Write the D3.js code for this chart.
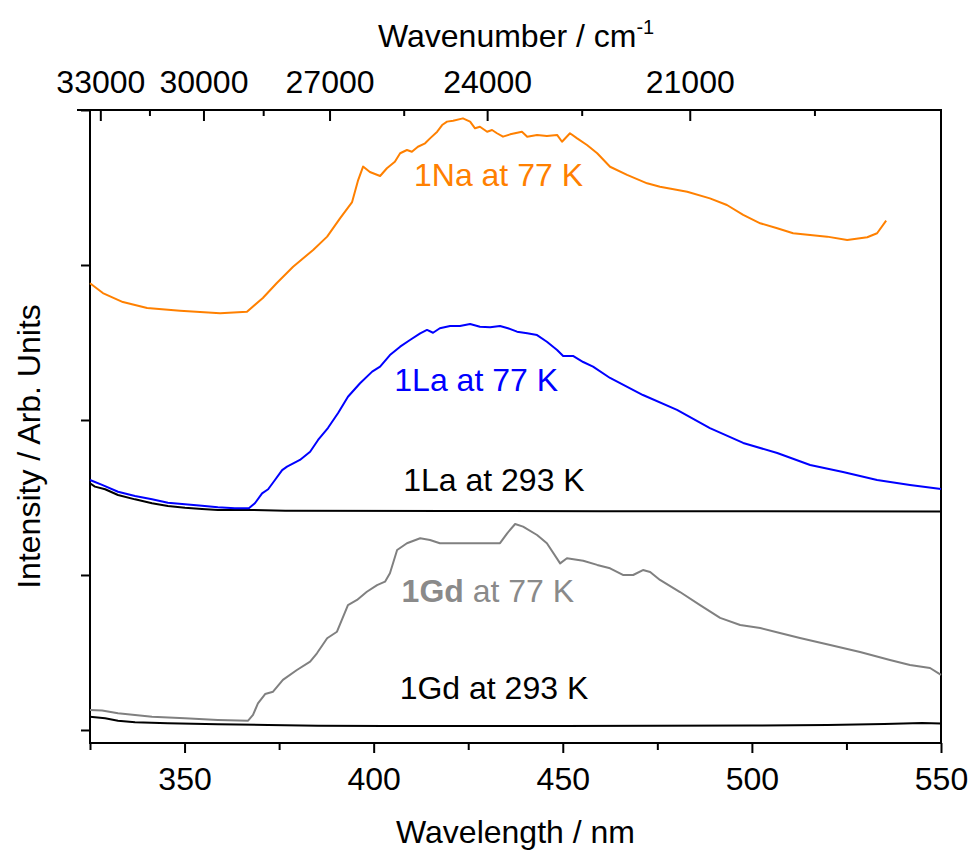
<!DOCTYPE html>
<html>
<head>
<meta charset="utf-8">
<script src="https://cdn.jsdelivr.net/npm/d3@7"></script>
<style>
  body { margin: 0; background: #fff; }
  svg text { font-family: Arial, "Liberation Sans", sans-serif; }
</style>
</head>
<body>
<svg id="chart" width="975" height="856"></svg>
<script>
// Emission spectra: wavelength (nm) and offset intensity (arb. units)
const na77Wavelength = [325.0,328.4,333.7,340.1,348.8,359.4,366.5,370.7,374.4,378.7,384.0,387.7,391.1,394.3,395.9,397.2,399.0,401.7,403.5,405.6,407.0,408.8,410.1,411.7,413.6,414.9,416.8,418.1,419.4,421.0,423.6,425.5,426.8,428.1,430.0,431.3,432.6,434.2,436.1,439.2,440.6,443.2,445.8,448.5,449.8,451.9,453.8,456.4,459.1,462.5,467.0,472.3,475.7,482.9,488.9,493.4,497.7,502.2,506.7,510.9,515.4,519.9,525.2,530.5,533.1,535.5];
const na77Intensity = [2.882,2.819,2.761,2.723,2.705,2.688,2.699,2.787,2.884,2.989,3.097,3.183,3.301,3.406,3.548,3.635,3.600,3.574,3.624,3.666,3.721,3.742,3.731,3.763,3.785,3.817,3.860,3.903,3.925,3.931,3.946,3.925,3.882,3.892,3.860,3.871,3.850,3.828,3.843,3.860,3.828,3.839,3.832,3.839,3.795,3.850,3.817,3.774,3.721,3.634,3.581,3.527,3.505,3.473,3.430,3.387,3.323,3.269,3.237,3.205,3.194,3.183,3.161,3.179,3.205,3.286];

const la77Wavelength = [325.0,328.2,332.4,336.9,341.4,345.6,350.1,354.6,358.8,363.3,367.0,368.6,370.5,372.1,373.9,375.8,377.1,380.5,383.2,385.3,387.9,390.6,393.2,396.4,399.6,401.7,404.3,407.0,409.6,412.3,414.1,415.7,417.5,420.2,422.8,425.5,428.1,430.8,433.4,435.5,437.9,440.6,443.2,445.8,448.5,450.1,452.7,455.4,458.0,462.5,471.2,480.2,488.9,497.7,506.7,515.4,524.1,533.1,541.8,550.0];
const la77Intensity = [1.613,1.581,1.537,1.510,1.488,1.466,1.456,1.447,1.437,1.430,1.430,1.463,1.527,1.553,1.613,1.677,1.699,1.742,1.795,1.871,1.948,2.045,2.150,2.237,2.312,2.344,2.419,2.473,2.516,2.559,2.581,2.563,2.592,2.606,2.606,2.619,2.602,2.598,2.606,2.592,2.570,2.559,2.548,2.505,2.452,2.413,2.413,2.374,2.344,2.271,2.161,2.065,1.948,1.852,1.787,1.710,1.665,1.613,1.581,1.555];

const la293Wavelength = [325.0,326.3,329.0,332.4,336.9,341.4,345.6,350.1,354.6,358.8,367.8,376.6,420.0,460.0,500.0,550.0];
const la293Intensity = [1.592,1.570,1.553,1.516,1.488,1.463,1.445,1.434,1.426,1.419,1.419,1.415,1.413,1.411,1.412,1.410];

const gd77Wavelength = [325.0,328.2,332.4,341.4,350.1,358.8,366.8,368.1,369.4,371.3,373.4,376.0,379.7,383.2,385.0,387.7,390.3,393.2,395.6,398.2,400.9,403.0,404.3,406.2,408.8,412.3,414.9,417.5,423.6,428.9,433.4,435.3,437.4,439.5,443.2,445.8,449.3,451.1,455.4,459.1,462.5,465.9,468.6,471.2,473.1,475.7,481.0,486.3,491.6,496.9,502.2,507.4,512.7,520.7,528.6,536.5,541.8,547.1,550.0];
const gd77Intensity = [0.129,0.125,0.108,0.086,0.075,0.065,0.060,0.097,0.172,0.232,0.247,0.323,0.387,0.441,0.495,0.592,0.634,0.806,0.839,0.892,0.935,0.957,1.011,1.161,1.205,1.237,1.226,1.205,1.205,1.205,1.205,1.269,1.329,1.312,1.258,1.205,1.075,1.108,1.092,1.065,1.043,1.000,1.000,1.032,1.019,0.968,0.890,0.806,0.723,0.677,0.658,0.626,0.594,0.548,0.503,0.452,0.419,0.400,0.355];

const gd293Wavelength = [325.0,329.0,332.4,336.9,345.6,358.8,372.1,385.3,403.0,450.0,500.0,520.0,535.0,545.0,550.0];
const gd293Intensity = [0.086,0.075,0.060,0.050,0.043,0.037,0.032,0.028,0.026,0.026,0.029,0.032,0.039,0.045,0.042];

// Axis ticks
const wavelengthMajor = [350, 400, 450, 500, 550];
const wavelengthMinor = [325, 375, 425, 475, 525];
const wavenumberMajor = [33000, 30000, 27000, 24000, 21000];
const wavenumberMinor = [31500, 28500, 25500, 22500, 19500];
const intensityTicks = [0, 1, 2, 3, 4];

const series = [
  { name: "1La at 293 K", wl: la293Wavelength, val: la293Intensity, color: "#000000" },
  { name: "1Gd at 293 K", wl: gd293Wavelength, val: gd293Intensity, color: "#000000" },
  { name: "1Gd at 77 K",  wl: gd77Wavelength,  val: gd77Intensity,  color: "#808080" },
  { name: "1La at 77 K",  wl: la77Wavelength,  val: la77Intensity,  color: "#0000ff" },
  { name: "1Na at 77 K",  wl: na77Wavelength,  val: na77Intensity,  color: "#ff8000" }
];

// Curve labels: [bold part, regular part, wavelength, intensity, colour]
const labels = [
  ["", "1Na at 77 K", 433.0, 3.510, "#ff8000"],
  ["", "1La at 77 K", 427.1, 2.189, "#0000ff"],
  ["", "1La at 293 K", 431.8, 1.544, "#000000"],
  ["1Gd", " at 77 K", 430.2, 0.824, "#8a8a8a"],
  ["", "1Gd at 293 K", 431.8, 0.198, "#000000"]
];

const L = 90, R = 941, T = 110, B = 743;
const FS = 32;

const svg = d3.select("#chart");

const x = d3.scaleLinear().domain([325, 550]).range([L, R]);
const y = d3.scaleLinear().domain([-0.084, 4]).range([B, T]);
// top axis: wavenumber, linear in 1/ν over 300–550 nm
const xTop = d3.scalePow().exponent(-1).domain([1e7 / 300, 1e7 / 550]).range([L, R]);

function styleAxis(g) {
  g.attr("font-family", null).attr("font-size", null);
  g.selectAll(".tick line").attr("stroke", "#000").attr("stroke-width", 2);
  g.selectAll(".tick text").attr("fill", "#000").style("font-size", FS + "px");
  g.select(".domain").remove();
}

// bottom axis
svg.append("g").attr("transform", `translate(0,${B})`)
  .call(d3.axisBottom(x).tickValues(wavelengthMajor).tickSize(10).tickPadding(14).tickFormat(d3.format("d")))
  .call(styleAxis);
svg.append("g").attr("transform", `translate(0,${B})`)
  .call(d3.axisBottom(x).tickValues(wavelengthMinor).tickSize(7).tickFormat(""))
  .call(styleAxis);

// top axis
svg.append("g").attr("transform", `translate(0,${T})`)
  .call(d3.axisTop(xTop).tickValues(wavenumberMajor).tickSizeInner(-11).tickSizeOuter(0).tickPadding(17).tickFormat(d3.format("d")))
  .call(styleAxis);
svg.append("g").attr("transform", `translate(0,${T})`)
  .call(d3.axisTop(xTop).tickValues(wavenumberMinor).tickSizeInner(-6).tickSizeOuter(0).tickFormat(""))
  .call(styleAxis);

// left axis
svg.append("g").attr("transform", `translate(${L},0)`)
  .call(d3.axisLeft(y).tickValues(intensityTicks).tickSize(9).tickFormat(""))
  .call(styleAxis);

// frame
svg.append("path")
  .attr("d", `M${L - 13},${T}H${R}V${B}H${L}V${T}`)
  .attr("fill", "none").attr("stroke", "#000").attr("stroke-width", 2);

// spectra
const line = d3.line().x(d => x(d[0])).y(d => y(d[1]));
svg.append("g").selectAll("path").data(series).join("path")
  .attr("d", s => line(s.wl.map((w, i) => [w, s.val[i]])))
  .attr("fill", "none")
  .attr("stroke", s => s.color)
  .attr("stroke-width", 2)
  .attr("stroke-linejoin", "round");

// curve labels
const lab = svg.append("g").selectAll("text").data(labels).join("text")
  .attr("x", d => x(d[2])).attr("y", d => y(d[3]))
  .attr("text-anchor", "middle")
  .attr("fill", d => d[4])
  .style("font-size", FS + "px");
lab.filter(d => d[0]).append("tspan").attr("font-weight", "bold").text(d => d[0]);
lab.append("tspan").text(d => d[1]);

// axis titles
svg.append("text").attr("x", (L + R) / 2).attr("y", 843)
  .attr("text-anchor", "middle").style("font-size", FS + "px").text("Wavelength / nm");

const topTitle = svg.append("text").attr("x", 378).attr("y", 47).style("font-size", FS + "px");
topTitle.append("tspan").text("Wavenumber / cm");
topTitle.append("tspan").attr("dy", -13).style("font-size", "20px").text("-1");

svg.append("text")
  .attr("transform", `translate(40,${(T + B) / 2 + 20}) rotate(-90)`)
  .attr("text-anchor", "middle").style("font-size", FS + "px")
  .text("Intensity / Arb. Units");
</script>
</body>
</html>
